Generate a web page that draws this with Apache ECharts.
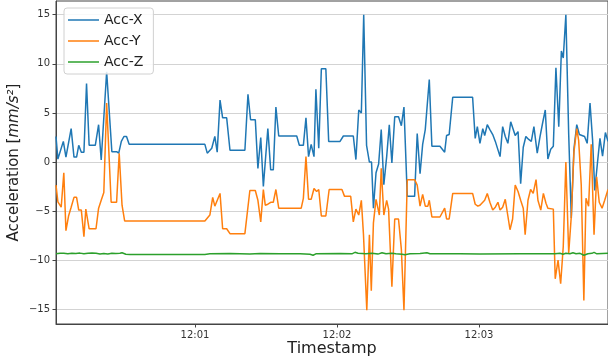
<!DOCTYPE html>
<html>
<head>
<meta charset="utf-8">
<script src="https://cdn.jsdelivr.net/npm/echarts@6/dist/echarts.min.js"></script>
<style>
  html, body { margin: 0; padding: 0; background: #fff; }
  #chart { width: 608px; height: 363px; }
</style>
</head>
<body>
<div id="chart"></div>
<script>
// time is seconds after 12:00:00, value in mm/s^2
const accX = [
  [1.3, 2.6], [2.1, 0.3], [4.4, 2.1], [5.5, 0.5], [7.7, 3.4], [8.9, 0.5], [10.0, 0.5],
  [10.9, 1.7], [12.0, 1.0], [13.1, 1.0], [14.2, 8.0], [15.3, 1.7], [17.9, 1.7], [19.3, 3.8],
  [20.4, 0.2], [22.7, 9.2], [24.9, 1.05], [26.9, 1.05], [27.8, 0.9], [28.9, 2.1], [30.0, 2.6],
  [31.1, 2.6], [32.2, 1.8], [64.2, 1.8], [65.2, 0.9], [67.1, 1.4], [68.4, 2.6], [69.4, 1.0],
  [70.6, 6.3], [71.7, 4.5], [73.4, 4.5], [74.8, 1.2], [81.1, 1.2], [82.4, 6.9], [83.5, 4.3],
  [85.5, 4.3], [86.6, -0.65], [87.8, 2.5], [88.9, -2.5], [90.8, 3.4], [92.0, -0.8], [93.1, -0.8],
  [94.2, 5.6], [95.4, 2.65], [103.0, 2.65], [104.1, 1.7], [105.8, 1.7], [106.9, 4.5], [108.0, 0.55],
  [109.1, 1.8], [110.3, 0.55], [111.1, 7.4], [112.3, 1.4], [113.4, 9.5], [115.3, 9.5], [116.5, 2.1],
  [121.3, 2.1], [122.7, 2.65], [126.9, 2.65], [128.0, 0.25], [129.2, 5.3], [130.3, 5.0], [131.3, 15.0],
  [132.5, 1.7], [133.7, 0.0], [134.6, 0.0], [135.4, -4.7], [136.5, -1.1], [137.6, -0.2], [138.7, 3.3],
  [139.8, -2.3], [141.0, 0.55], [142.1, 3.8], [143.2, -0.1], [144.4, 4.6], [146.0, 4.6], [147.2, 3.7],
  [148.3, 5.6], [149.7, -3.5], [152.8, -3.5], [153.9, 2.9], [155.1, -1.2], [156.2, 1.8], [157.3, 3.3],
  [158.1, 3.3], [159.0, 8.4], [160.1, 1.6], [163.5, 1.6], [165.5, 1.0], [166.3, 2.7], [167.4, 2.8],
  [168.9, 6.6], [177.3, 6.6], [178.4, 2.4], [179.3, 3.6], [180.4, 1.9], [181.6, 3.4], [182.4, 2.7],
  [183.5, 3.8], [184.6, 3.3], [185.8, 2.8], [186.9, 2.1], [187.7, 2.1], [188.9, 0.55], [190.0, 3.6],
  [191.1, 2.6], [192.2, 1.9], [193.4, 4.1], [194.2, 4.1], [195.3, 2.7], [196.5, 3.1], [197.6, -2.2],
  [198.7, 1.5], [199.8, 2.6], [201.0, 2.3], [202.1, 2.1], [203.2, 3.6], [204.6, 0.9], [205.8, 2.6],
  [206.9, 4.0], [208.0, 5.3], [209.1, 0.3], [210.3, 1.3], [211.4, 1.6], [212.5, 9.6], [213.7, 3.6],
  [214.8, 11.3], [215.6, 10.6], [216.7, 15.0], [217.9, 2.8], [219.0, -5.7], [220.1, 1.3], [221.3, 3.8],
  [222.4, 2.8], [223.5, 2.7], [224.6, 2.6], [225.7, 1.9], [226.9, 6.0], [228.0, 2.2], [228.9, -2.9],
  [230.0, -0.2], [231.1, 2.4], [232.2, 0.6], [233.4, 3.0], [234.5, 2.1]
]

const accY = [
  [1.3, -2.35], [2.1, -4.05], [3.5, -4.6], [4.6, -1.1], [5.5, -7.0], [6.6, -5.5], [7.7, -4.6],
  [8.9, -3.6], [10.0, -3.6], [10.9, -4.9], [12.0, -4.9], [13.1, -7.6], [13.9, -4.8], [15.3, -6.8],
  [18.2, -6.8], [19.3, -4.7], [20.4, -3.9], [21.5, -3.1], [22.7, 6.0], [24.6, -4.1], [26.9, -4.1],
  [28.0, 0.9], [29.2, -4.4], [30.3, -6.0], [64.2, -6.0], [66.3, -5.4], [67.5, -3.6], [68.4, -4.5],
  [70.6, -3.2], [71.7, -6.8], [73.4, -6.8], [74.8, -7.3], [81.1, -7.3], [83.2, -2.9], [85.5, -2.9],
  [86.6, -3.9], [87.8, -6.1], [88.9, -2.8], [89.7, -4.4], [90.8, -4.3], [92.0, -4.1], [93.1, -4.1],
  [94.2, -2.8], [95.4, -4.7], [104.9, -4.7], [105.8, -3.7], [106.9, 0.55], [108.0, -3.8], [109.1, -3.8],
  [110.3, -2.7], [111.4, -3.0], [112.3, -2.8], [113.4, -5.5], [115.3, -5.5], [116.7, -2.8], [122.1, -2.8],
  [123.2, -3.5], [125.8, -3.5], [126.9, -6.1], [128.0, -4.8], [129.2, -5.4], [130.3, -3.9], [131.2, -7.4],
  [132.6, -15.1], [133.7, -7.4], [134.5, -13.1], [135.4, -6.2], [136.5, -3.8], [137.9, -5.4], [138.7, -0.65],
  [139.8, -5.4], [141.0, -3.9], [141.8, -4.8], [143.2, -12.7], [144.4, -5.8], [146.0, -5.8], [147.2, -8.9],
  [148.3, -15.1], [149.7, -1.8], [152.8, -1.8], [153.9, -2.35], [155.1, -4.5], [156.2, -3.3], [157.3, -4.5],
  [158.4, -4.5], [159.0, -3.9], [160.1, -5.6], [163.5, -5.6], [165.5, -4.7], [166.3, -5.8], [167.4, -5.8],
  [168.9, -3.2], [177.3, -3.2], [178.4, -4.3], [179.5, -4.5], [180.4, -4.4], [181.2, -4.4], [182.4, -3.9],
  [183.5, -3.2], [184.6, -4.1], [185.8, -4.9], [186.9, -4.6], [188.0, -4.1], [188.9, -4.9], [190.0, -4.6],
  [191.1, -3.8], [192.2, -5.5], [193.1, -6.9], [194.2, -5.8], [195.3, -2.35], [196.5, -3.0], [197.6, -3.9],
  [198.7, -4.7], [199.5, -7.4], [200.7, -3.9], [201.8, -2.8], [202.9, -3.2], [204.1, -1.8], [204.9, -3.9],
  [206.1, -4.9], [207.2, -3.2], [208.3, -4.2], [209.1, -4.7], [211.4, -4.8], [212.2, -11.9], [213.4, -10.0],
  [214.5, -12.4], [215.6, -8.6], [216.7, 0.0], [217.9, -9.3], [219.0, -5.5], [220.1, 1.0], [221.3, 3.4],
  [222.1, 2.2], [223.2, -2.35], [224.3, -14.1], [225.2, -3.7], [226.3, -4.5], [227.4, 1.8], [228.6, -7.4],
  [229.7, -1.5], [230.8, -4.1], [232.0, -4.7], [233.1, -3.9], [234.5, -2.8]
]

const accZ = [
  [1.3, -9.35], [3.0, -9.3], [4.6, -9.3], [6.3, -9.35], [8.0, -9.3], [9.7, -9.32], [11.4, -9.28],
  [13.1, -9.35], [14.8, -9.3], [16.5, -9.28], [18.2, -9.3], [19.9, -9.38], [21.5, -9.32], [23.2, -9.38],
  [24.9, -9.3], [26.6, -9.32], [28.3, -9.3], [29.2, -9.25], [30.8, -9.4], [32.5, -9.42], [64.2, -9.42],
  [66.3, -9.35], [74.8, -9.33], [83.2, -9.38], [87.5, -9.32], [95.9, -9.35], [104.4, -9.35], [108.6, -9.4],
  [109.9, -9.5], [111.1, -9.35], [121.3, -9.33], [126.3, -9.35], [127.6, -9.2], [128.9, -9.3], [132.2, -9.35],
  [134.8, -9.3], [137.3, -9.38], [139.0, -9.25], [140.7, -9.35], [141.5, -9.22], [143.2, -9.3], [144.9, -9.35],
  [147.5, -9.4], [148.7, -9.45], [150.8, -9.35], [155.1, -9.33], [158.0, -9.25], [159.3, -9.35], [172.0, -9.35],
  [180.4, -9.38], [197.3, -9.35], [210.0, -9.35], [212.1, -9.35], [212.9, -9.45], [214.2, -9.3], [215.5, -9.4],
  [216.7, -9.3], [218.4, -9.35], [219.7, -9.25], [221.0, -9.35], [222.7, -9.3], [224.3, -9.5], [226.0, -9.35],
  [227.7, -9.3], [228.6, -9.2], [229.8, -9.35], [234.5, -9.3]
]

const yTicks = [-15, -10, -5, 0, 5, 10, 15]
const xTicks = [60, 120, 180]
const seriesNames = ['Acc-X', 'Acc-Y', 'Acc-Z']
const colors = ['#1f77b4', '#ff7f0e', '#2ca02c']

const chart = echarts.init(document.getElementById('chart'), null, { renderer: 'canvas' })

const font = 'DejaVu Sans'
const minus = v => String(v).replace('-', '\u2212')

const makeLine = (name, data, color) => ({
  name,
  type: 'line',
  data,
  symbol: 'none',
  lineStyle: { color, width: 1.5 },
  itemStyle: { color },
  z: 3
})

const option = {
  animation: false,
  color: colors,
  grid: {
    left: 56,
    right: 0,
    top: 1,
    bottom: 39,
    outerBoundsMode: 'none',
    containLabel: false,
    show: true,
    borderColor: '#444',
    borderWidth: 1
  },
  legend: {
    data: seriesNames,
    orient: 'vertical',
    left: 64,
    top: 8,
    padding: [5, 10, 5, 4],
    icon: 'rect',
    itemWidth: 31,
    itemHeight: 1.5,
    itemGap: 7,
    backgroundColor: 'rgba(255,255,255,0.85)',
    borderColor: '#d0d0d0',
    borderWidth: 1,
    borderRadius: 3,
    textStyle: { fontFamily: font, fontSize: 14, color: '#222', lineHeight: 14 }
  },
  xAxis: {
    type: 'value',
    min: 1.3,
    max: 234.5,
    name: 'Timestamp',
    nameLocation: 'middle',
    nameGap: 17,
    nameMoveOverlap: false,
    nameTextStyle: { fontFamily: font, fontSize: 16, color: '#222' },
    axisLine: { show: true, onZero: false, lineStyle: { color: '#444' } },
    axisTick: { show: true, customValues: xTicks, length: 3.5, lineStyle: { color: '#444' } },
    axisLabel: {
      customValues: xTicks,
      fontFamily: font,
      fontSize: 10,
      color: '#333',
      margin: 6,
      formatter: v => '12:0' + Math.round(v / 60)
    },
    splitLine: { show: false }
  },
  yAxis: {
    type: 'value',
    min: -16.5,
    max: 16.4,
    name: 'Acceleration [{i|mm/s²}]',
    nameLocation: 'middle',
    nameGap: 34,
    nameMoveOverlap: false,
    nameTextStyle: {
      fontFamily: font,
      fontSize: 15,
      color: '#222',
      rich: { i: { fontFamily: font, fontSize: 15, fontStyle: 'italic', color: '#222' } }
    },
    axisLine: { show: true, onZero: false, lineStyle: { color: '#444' } },
    axisTick: { show: true, customValues: yTicks, length: 3.5, lineStyle: { color: '#444' } },
    axisLabel: {
      customValues: yTicks,
      fontFamily: font,
      fontSize: 10,
      color: '#333',
      margin: 6,
      formatter: v => minus(v)
    },
    splitLine: { show: true, lineStyle: { color: '#d3d3d3', width: 1 } }
  },
  series: [
    makeLine(seriesNames[0], accX, colors[0]),
    makeLine(seriesNames[1], accY, colors[1]),
    makeLine(seriesNames[2], accZ, colors[2])
  ]
}

chart.setOption(option)
</script>
</body>
</html>
